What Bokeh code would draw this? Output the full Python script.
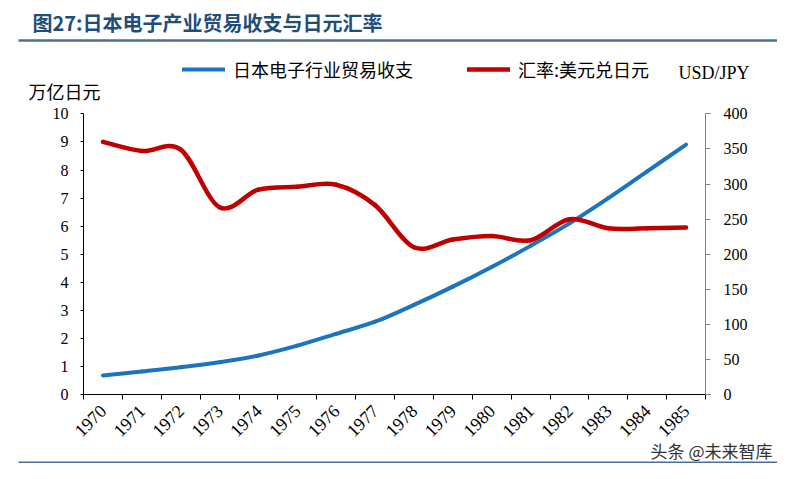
import math
from bokeh.plotting import figure
from bokeh.models import (Range1d, LinearAxis, FixedTicker, Label, Legend, LegendItem, Arrow)
from bokeh.embed import file_html
from bokeh.resources import INLINE

# ---- data ----
years = ["1970", "1971", "1972", "1973", "1974", "1975", "1976", "1977",
         "1978", "1979", "1980", "1981", "1982", "1983", "1984", "1985"]
trade_balance = [0.69, 0.83, 0.98, 1.16, 1.40, 1.75, 2.17, 2.60,
                 3.20, 3.85, 4.55, 5.30, 6.10, 7.00, 7.95, 8.90]   # 万亿日元
usd_jpy = [360, 347, 349, 267, 292, 296, 299, 270,
           210, 221, 226, 220, 250, 237, 237, 238]                  # USD/JPY
left_ticks = [0, 1, 2, 3, 4, 5, 6, 7, 8, 9, 10]
right_ticks = [0, 50, 100, 150, 200, 250, 300, 350, 400]

title_text = "图27:日本电子产业贸易收支与日元汇率"
legend_labels = ["日本电子行业贸易收支", "汇率:美元兑日元"]
left_unit = "万亿日元"
right_unit = "USD/JPY"
watermark = "头条 @未来智库"

BLUE = "#1B75BE"
RED = "#C00000"
NAVY = "#1F4E79"
RULE = "#4A6E9C"
SERIF = "Liberation Serif"
CJK = "Noto Sans CJK SC"

# ---- layout (pixels on the canvas) ----
W, H = 777, 463
AX_L, AX_R = 83.0, 705.0       # left / right axis x
AX_B, AX_T = 394.3, 113.3      # y of value 0 and value 10
n = len(years)
LMAX, RMAX = 10.0, 400.0
sx = (AX_R - AX_L) / n
sy = (AX_B - AX_T) / LMAX

x0 = -AX_L / sx
x1 = n + (W - AX_R) / sx
y0 = -(H - AX_B) / sy
y1 = LMAX + AX_T / sy
k = RMAX / LMAX

xs = [i + 0.5 for i in range(n)]

p = figure(width=W, height=H, x_range=Range1d(x0, x1), y_range=Range1d(y0, y1),
           output_backend="svg", toolbar_location=None,
           min_border_left=0, min_border_right=0, min_border_top=0, min_border_bottom=0)
p.title.visible = False
p.extra_y_ranges = {"usd": Range1d(y0 * k, y1 * k)}
p.xgrid.visible = False
p.ygrid.visible = False
p.outline_line_color = None
p.background_fill_color = "white"
p.border_fill_color = "white"

# x axis: labels at category centres, tick marks at boundaries
xa = p.xaxis[0]
xa.fixed_location = 0
xa.bounds = (0, n)
xa.ticker = FixedTicker(ticks=xs, minor_ticks=list(range(n + 1)))
xa.major_label_overrides = {x: y for x, y in zip(xs, years)}
xa.major_tick_in = 0
xa.major_tick_out = 0
xa.minor_tick_in = 0
xa.minor_tick_out = 5
xa.minor_tick_line_color = "black"
xa.axis_line_color = "black"
xa.major_label_orientation = math.pi / 4
xa.major_label_text_font = SERIF
xa.major_label_text_font_size = "18px"
xa.major_label_text_color = "black"
xa.major_label_standoff = 8

ya = p.yaxis[0]
ya.fixed_location = 0
ya.bounds = (0, LMAX)
ya.ticker = FixedTicker(ticks=left_ticks, minor_ticks=[])
ya.major_tick_in = 0
ya.major_tick_out = 3
ya.major_tick_line_color = "black"
ya.axis_line_color = "black"
ya.major_label_text_font = SERIF
ya.major_label_text_font_size = "16px"
ya.major_label_text_color = "black"
ya.major_label_standoff = 12

ra = LinearAxis(y_range_name="usd", fixed_location=n, bounds=(0, RMAX),
                ticker=FixedTicker(ticks=right_ticks, minor_ticks=[]))
ra.major_tick_in = 0
ra.major_tick_out = 5
ra.major_tick_line_color = "#808080"
ra.axis_line_color = "#808080"
ra.major_label_text_font = SERIF
ra.major_label_text_font_size = "16px"
ra.major_label_text_color = "black"
ra.major_label_standoff = 13
p.add_layout(ra, "right")


def catmull_bezier(x, y):
    m = len(x)
    out = dict(x0=[], y0=[], x1=[], y1=[], cx0=[], cy0=[], cx1=[], cy1=[])
    for i in range(m - 1):
        a = max(i - 1, 0)
        d = min(i + 2, m - 1)
        out["x0"].append(x[i]); out["y0"].append(y[i])
        out["x1"].append(x[i + 1]); out["y1"].append(y[i + 1])
        out["cx0"].append(x[i] + (x[i + 1] - x[a]) / 6.0)
        out["cy0"].append(y[i] + (y[i + 1] - y[a]) / 6.0)
        out["cx1"].append(x[i + 1] - (x[d] - x[i]) / 6.0)
        out["cy1"].append(y[i + 1] - (y[d] - y[i]) / 6.0)
    return out


b = catmull_bezier(xs, trade_balance)
blue_r = p.bezier(x0=b["x0"], y0=b["y0"], x1=b["x1"], y1=b["y1"],
                  cx0=b["cx0"], cy0=b["cy0"], cx1=b["cx1"], cy1=b["cy1"],
                  line_color=BLUE, line_width=4, line_cap="round")
r = catmull_bezier(xs, usd_jpy)
red_r = p.bezier(x0=r["x0"], y0=r["y0"], x1=r["x1"], y1=r["y1"],
                 cx0=r["cx0"], cy0=r["cy0"], cx1=r["cx1"], cy1=r["cy1"],
                 line_color=RED, line_width=4.5, line_cap="round", y_range_name="usd")

# legend (location measured from the canvas bottom-left)
legend = Legend(items=[LegendItem(label=legend_labels[0], renderers=[blue_r]),
                       LegendItem(label=legend_labels[1], renderers=[red_r])],
                orientation="horizontal", location=(182, H - 82),
                glyph_width=43, glyph_height=20, label_height=20, label_standoff=8, spacing=54,
                padding=0, margin=0, border_line_color=None, background_fill_alpha=0,
                label_text_font=CJK, label_text_font_size="18px", label_text_color="black")
p.add_layout(legend, "center")


def dx(px):
    return x0 + px / sx


def dy(py):
    return y0 + (H - py) / sy


p.add_layout(Label(x=dx(32), y=dy(22), text=title_text, text_font=CJK, text_font_style="bold",
                   text_font_size="20px", text_color=NAVY, text_baseline="middle", text_align="left"))
p.add_layout(Arrow(end=None, x_start=dx(18), y_start=dy(40), x_end=dx(W), y_end=dy(40),
                   line_color=RULE, line_width=2.5))
p.add_layout(Arrow(end=None, x_start=dx(18), y_start=dy(462), x_end=dx(W), y_end=dy(462),
                   line_color=RULE, line_width=2))
p.add_layout(Label(x=dx(28), y=dy(90), text=left_unit, text_font=CJK, text_font_size="18px",
                   text_color="black", text_baseline="middle", text_align="left"))
p.add_layout(Label(x=dx(678), y=dy(72), text=right_unit, text_font=SERIF, text_font_size="18px",
                   text_color="black", text_baseline="middle", text_align="left"))
p.add_layout(Label(x=dx(772), y=dy(450), text=watermark, text_font=CJK, text_font_size="17px",
                   text_color="#333333", text_baseline="middle", text_align="right"))

open("out.html", "w").write(file_html(p, INLINE))
